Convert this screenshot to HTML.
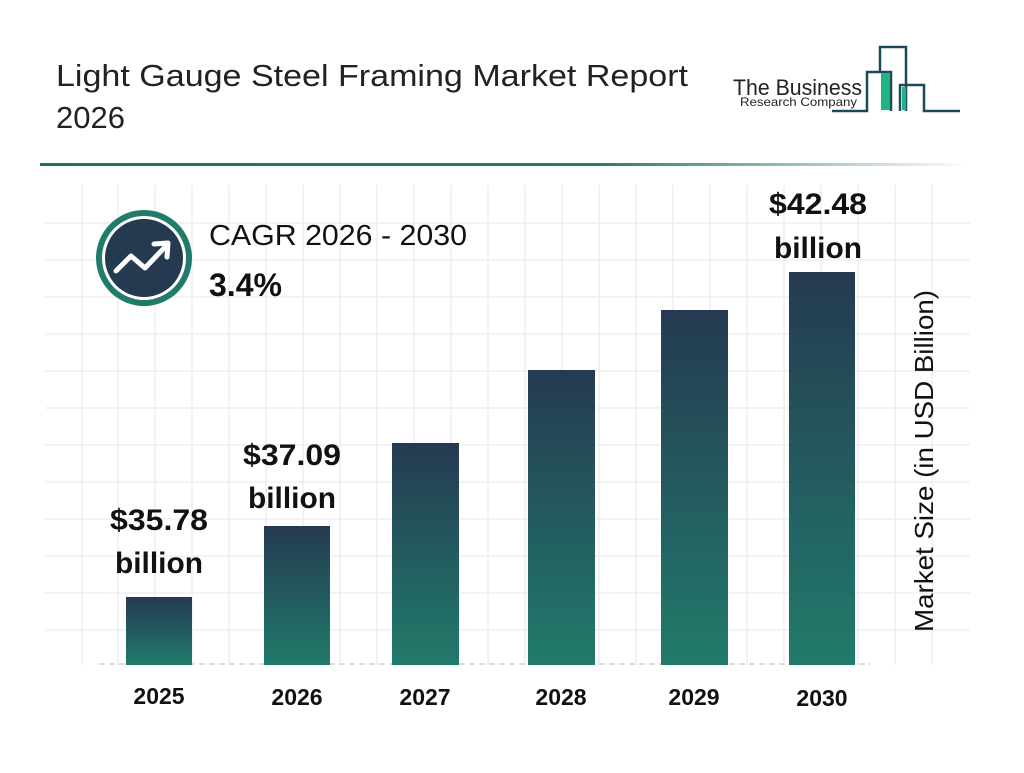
<!DOCTYPE html>
<html><head><meta charset="utf-8"><style>
body{margin:0;background:#fff;}
svg text{font-family:"Liberation Sans",Arial,sans-serif;}
</style></head><body>
<svg width="1024" height="768" viewBox="0 0 1024 768" xmlns="http://www.w3.org/2000/svg">
<defs>
<linearGradient id="g" x1="0" y1="0" x2="0" y2="1"><stop offset="0" stop-color="#253a52"/><stop offset="1" stop-color="#217b6b"/></linearGradient>
<linearGradient id="hl" x1="0" y1="0" x2="1" y2="0"><stop offset="0" stop-color="#1f6f63"/><stop offset="0.6" stop-color="#2a7a6c"/><stop offset="1" stop-color="#ffffff"/></linearGradient>
</defs>
<text x="56" y="86" font-size="31" fill="#222" textLength="632" lengthAdjust="spacingAndGlyphs">Light Gauge Steel Framing Market Report</text>
<text x="56" y="128" font-size="31" fill="#222">2026</text>
<!-- logo -->
<text x="733" y="95" font-size="22" fill="#222" textLength="129" lengthAdjust="spacingAndGlyphs">The Business</text>
<text x="740" y="106" font-size="12" fill="#222" textLength="117" lengthAdjust="spacingAndGlyphs">Research Company</text>
<g fill="none" stroke="#1d4a5a" stroke-width="2.5">
<polyline points="832,111 867,111 867,72 891,72 891,111"/>
<polyline points="880,72 880,47 906,47 906,111"/>
<polyline points="900,111 900,85 924,85 924,111 960,111"/>
</g>
<rect x="881" y="73" width="9" height="37" fill="#1db584"/>
<rect x="902" y="87" width="4" height="23" fill="#1db584"/>
<rect x="40" y="163" width="930" height="3" fill="url(#hl)"/>
<!-- grid -->
<g stroke="#ececef" stroke-width="1.3">
<line x1="82" y1="185" x2="82" y2="665"/><line x1="118" y1="185" x2="118" y2="665"/><line x1="155" y1="185" x2="155" y2="665"/><line x1="192" y1="185" x2="192" y2="665"/><line x1="229" y1="185" x2="229" y2="665"/><line x1="266" y1="185" x2="266" y2="665"/><line x1="303" y1="185" x2="303" y2="665"/><line x1="340" y1="185" x2="340" y2="665"/><line x1="377" y1="185" x2="377" y2="665"/><line x1="414" y1="185" x2="414" y2="665"/><line x1="451" y1="185" x2="451" y2="665"/><line x1="488" y1="185" x2="488" y2="665"/><line x1="525" y1="185" x2="525" y2="665"/><line x1="562" y1="185" x2="562" y2="665"/><line x1="599" y1="185" x2="599" y2="665"/><line x1="636" y1="185" x2="636" y2="665"/><line x1="673" y1="185" x2="673" y2="665"/><line x1="710" y1="185" x2="710" y2="665"/><line x1="747" y1="185" x2="747" y2="665"/><line x1="784" y1="185" x2="784" y2="665"/><line x1="821" y1="185" x2="821" y2="665"/><line x1="858" y1="185" x2="858" y2="665"/><line x1="895" y1="185" x2="895" y2="665"/><line x1="932" y1="185" x2="932" y2="665"/>
<line x1="45" y1="223" x2="970" y2="223"/><line x1="45" y1="260" x2="970" y2="260"/><line x1="45" y1="297" x2="970" y2="297"/><line x1="45" y1="334" x2="970" y2="334"/><line x1="45" y1="371" x2="970" y2="371"/><line x1="45" y1="408" x2="970" y2="408"/><line x1="45" y1="445" x2="970" y2="445"/><line x1="45" y1="482" x2="970" y2="482"/><line x1="45" y1="519" x2="970" y2="519"/><line x1="45" y1="556" x2="970" y2="556"/><line x1="45" y1="593" x2="970" y2="593"/><line x1="45" y1="630" x2="970" y2="630"/>
</g>
<line x1="99" y1="664" x2="870" y2="664" stroke="#cfd3d8" stroke-width="1.5" stroke-dasharray="6,4"/>
<!-- bars -->
<rect x="126" y="597" width="66" height="68" fill="url(#g)"/>
<rect x="264" y="526" width="66" height="139" fill="url(#g)"/>
<rect x="392" y="443" width="67" height="222" fill="url(#g)"/>
<rect x="528" y="370" width="67" height="295" fill="url(#g)"/>
<rect x="661" y="310" width="67" height="355" fill="url(#g)"/>
<rect x="789" y="272" width="66" height="393" fill="url(#g)"/>
<g font-weight="bold" font-size="30" fill="#111" text-anchor="middle">
<text x="159" y="530" textLength="98" lengthAdjust="spacingAndGlyphs">$35.78</text><text x="159" y="573" textLength="88" lengthAdjust="spacingAndGlyphs">billion</text>
<text x="292" y="465" textLength="98" lengthAdjust="spacingAndGlyphs">$37.09</text><text x="292" y="508" textLength="88" lengthAdjust="spacingAndGlyphs">billion</text>
<text x="818" y="214" textLength="98" lengthAdjust="spacingAndGlyphs">$42.48</text><text x="818" y="258" textLength="88" lengthAdjust="spacingAndGlyphs">billion</text>
</g>
<g font-weight="bold" font-size="23" fill="#111" text-anchor="middle">
<text x="159" y="704">2025</text><text x="297" y="705">2026</text><text x="425" y="705">2027</text><text x="561" y="705">2028</text><text x="694" y="705">2029</text><text x="822" y="706">2030</text>
</g>
<text transform="translate(933,461) rotate(-90)" font-size="26" fill="#111" text-anchor="middle" textLength="342" lengthAdjust="spacingAndGlyphs">Market Size (in USD Billion)</text>
<!-- CAGR -->
<circle cx="144" cy="258" r="48" fill="#217b6b"/>
<circle cx="144" cy="258" r="42" fill="#fff"/>
<circle cx="144" cy="258" r="39" fill="#253a50"/>
<polyline points="116,271 131,256 145,268 166,246" fill="none" stroke="#fff" stroke-width="5" stroke-linecap="round" stroke-linejoin="round"/>
<polyline points="154,244 168,243 167,257" fill="none" stroke="#fff" stroke-width="5" stroke-linecap="round" stroke-linejoin="round"/>
<text x="209" y="245" font-size="29" fill="#111" textLength="258" lengthAdjust="spacingAndGlyphs">CAGR 2026 - 2030</text>
<text x="209" y="296" font-size="32" font-weight="bold" fill="#111">3.4%</text>
</svg>
</body></html>
